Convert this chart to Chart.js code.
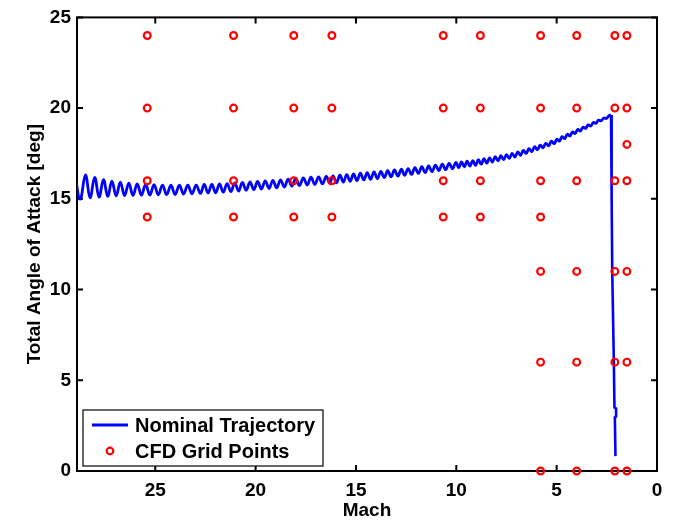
<!DOCTYPE html>
<html><head><meta charset="utf-8">
<script src="https://cdn.jsdelivr.net/npm/chart.js@4"></script>
<style>html,body{margin:0;padding:0;background:#fff}#wrap{width:674px;height:520px}</style>
</head><body><div id="wrap"><canvas id="c" width="674" height="520"></canvas></div>
<script>
const xTicks = [0, 5, 10, 15, 20, 25];
const yTicks = [0, 5, 10, 15, 20, 25];

const trajMach = [29.00,28.74,28.48,28.25,28.02,27.80,27.58,27.37,27.16,26.95,26.74,26.53,26.32,26.11,25.90,25.69,25.48,25.27,25.06,24.85,24.64,24.43,24.22,24.01,23.80,23.59,23.38,23.17,22.96,22.75,
22.56,22.37,22.18,21.99,21.80,21.61,21.42,21.23,21.04,20.85,20.66,20.47,20.28,20.09,19.90,19.71,19.52,19.33,19.14,18.95,18.76,18.57,18.38,18.19,18.00,17.81,17.62,17.43,17.24,17.05,16.86,16.67,16.48,
16.31,16.14,15.97,15.80,15.63,15.46,15.29,15.12,14.95,14.78,14.61,14.44,14.27,14.10,13.93,13.76,13.59,13.42,13.25,13.08,12.91,12.74,12.57,12.40,12.23,12.06,11.89,11.72,11.55,11.38,11.21,11.04,10.87,10.70,10.53,10.36,10.19,10.02,
9.88,9.74,9.60,9.46,9.32,9.18,9.04,8.90,8.76,8.62,8.48,8.34,8.20,8.06,7.92,7.78,7.64,7.50,7.36,7.22,7.08,6.94,6.80,6.66,6.52,6.38,6.24,6.10,5.96,5.82,5.68,5.54,5.40,5.26,5.12,
4.99,4.86,4.73,4.60,4.47,4.34,4.21,4.08,3.95,3.82,3.69,3.56,3.43,3.30,3.17,3.04,2.91,2.78,2.65,2.52,2.39,2.29];
const trajAoA = [16.30,14.98,16.32,15.06,16.18,15.10,16.06,15.14,15.98,15.16,15.92,15.18,15.87,15.19,15.83,15.20,15.80,15.21,15.78,15.22,15.76,15.23,15.75,15.24,15.75,15.26,15.75,15.28,15.76,15.30,
15.79,15.32,15.80,15.33,15.82,15.37,15.84,15.40,15.88,15.43,15.90,15.47,15.93,15.51,15.96,15.54,15.99,15.57,16.02,15.61,16.05,15.65,16.09,15.70,16.13,15.73,16.16,15.76,16.19,15.79,16.21,15.82,16.24,
15.86,16.27,15.88,16.30,15.92,16.34,15.96,16.37,16.01,16.41,16.04,16.44,16.08,16.48,16.12,16.51,16.17,16.55,16.21,16.59,16.25,16.63,16.30,16.67,16.35,16.72,16.40,16.77,16.45,16.81,16.50,16.86,16.56,16.91,16.61,16.96,16.66,17.01,
16.72,17.04,16.76,17.08,16.80,17.11,16.85,17.16,16.91,17.21,16.97,17.26,17.03,17.32,17.09,17.38,17.16,17.44,17.23,17.51,17.30,17.58,17.40,17.67,17.50,17.77,17.60,17.87,17.71,17.96,17.81,18.06,17.92,18.18,18.04,
18.29,18.18,18.43,18.32,18.56,18.46,18.69,18.60,18.82,18.74,18.95,18.88,19.08,19.01,19.21,19.16,19.34,19.30,19.46,19.43,19.58,19.62];

const dropMach = [2.29, 2.26, 2.23, 2.15, 2.12, 2.04, 2.04, 2.10, 2.07];
const dropAoA  = [19.62, 15.0, 11.0, 6.0, 3.5, 3.45, 3.0, 2.95, 0.82];

const gridMach = [25.4,25.4,25.4,25.4, 21.1,21.1,21.1,21.1, 18.1,18.1,18.1,18.1, 16.2,16.2,16.2,16.2,
  10.65,10.65,10.65,10.65, 8.8,8.8,8.8,8.8, 5.8,5.8,5.8,5.8,5.8,5.8,5.8, 4.0,4.0,4.0,4.0,4.0,4.0,
  2.1,2.1,2.1,2.1,2.1,2.1, 1.5,1.5,1.5,1.5,1.5,1.5,1.5];
const gridAoA = [24,20,16,14, 24,20,16,14, 24,20,16,14, 24,20,16,14,
  24,20,16,14, 24,20,16,14, 24,20,16,14,11,6,0, 24,20,16,11,6,0,
  24,20,16,11,6,0, 24,20,18,16,11,6,0];

const seriesLabels = ['Nominal Trajectory', 'CFD Grid Points'];
const BLUE = '#0000ff', RED = '#ff0000';
const FONT = '"Liberation Sans", Arial, sans-serif';

const frame = {
  id: 'frame',
  beforeDatasetsDraw(chart) {
    const {ctx, chartArea: a, scales: {x, y}} = chart;
    ctx.save();
    ctx.strokeStyle = '#000';
    ctx.lineWidth = 2;
    ctx.strokeRect(a.left, a.top, a.right - a.left, a.bottom - a.top);
    ctx.beginPath();
    const L = 6;
    xTicks.forEach(v => { const p = x.getPixelForValue(v);
      ctx.moveTo(p, a.bottom); ctx.lineTo(p, a.bottom - L);
      ctx.moveTo(p, a.top); ctx.lineTo(p, a.top + L); });
    yTicks.forEach(v => { const p = y.getPixelForValue(v);
      ctx.moveTo(a.left, p); ctx.lineTo(a.left + L, p);
      ctx.moveTo(a.right, p); ctx.lineTo(a.right - L, p); });
    ctx.stroke();
    ctx.restore();
  },
  afterDraw(chart) {
    const {ctx, chartArea: a} = chart;
    const bx = a.left + 6, bw = 240, bh = 56, by = a.bottom - 5 - bh;
    ctx.save();
    ctx.fillStyle = '#fff';
    ctx.fillRect(bx, by, bw, bh);
    ctx.strokeStyle = '#000';
    ctx.lineWidth = 1.2;
    ctx.strokeRect(bx, by, bw, bh);
    const r1 = by + 15, r2 = by + 41;
    ctx.strokeStyle = BLUE; ctx.lineWidth = 2.8;
    ctx.beginPath(); ctx.moveTo(bx + 9, r1); ctx.lineTo(bx + 45, r1); ctx.stroke();
    ctx.strokeStyle = RED; ctx.lineWidth = 2.2;
    ctx.beginPath(); ctx.arc(bx + 27, r2, 3.3, 0, Math.PI * 2); ctx.stroke();
    ctx.fillStyle = '#000';
    ctx.font = 'bold 20px ' + FONT;
    ctx.textBaseline = 'middle';
    ctx.fillText(chart.data.datasets[0].label, bx + 52, r1 + 1);
    ctx.fillText(chart.data.datasets[2].label, bx + 52, r2 + 1);
    ctx.restore();
  }
};

new Chart(document.getElementById('c'), {
  type: 'scatter',
  data: {
    datasets: [
      { label: seriesLabels[0], type: 'line', data: trajMach.map((m, i) => ({x: m, y: trajAoA[i]})),
        borderColor: BLUE, borderWidth: 2.8, pointRadius: 0, tension: 0.4, fill: false, order: 2 },
      { label: seriesLabels[0] + ' (drop)', type: 'line', data: dropMach.map((m, i) => ({x: m, y: dropAoA[i]})),
        borderColor: BLUE, borderWidth: 2.6, pointRadius: 0, tension: 0, fill: false, order: 3 },
      { label: seriesLabels[1], data: gridMach.map((m, i) => ({x: m, y: gridAoA[i]})),
        pointStyle: 'circle', pointRadius: 3.4, pointBorderWidth: 2.2, borderColor: RED,
        backgroundColor: 'rgba(0,0,0,0)', pointBackgroundColor: 'rgba(0,0,0,0)', showLine: false, clip: false, order: 1 }
    ]
  },
  options: {
    responsive: false, animation: false, devicePixelRatio: 1,
    layout: { padding: { top: 14, right: 17, left: 0, bottom: 0 } },
    plugins: { legend: { display: false }, tooltip: { enabled: false } },
    scales: {
      x: {
        type: 'linear', reverse: true, min: 0, max: 28.9,
        afterBuildTicks: s => { s.ticks = xTicks.map(v => ({value: v})); },
        afterFit: s => { s.height = 49; },
        grid: { display: false, drawTicks: false }, border: { display: false },
        ticks: { color: '#000', padding: 8, font: { family: FONT, size: 19, weight: 'bold' }, maxRotation: 0 },
        title: { display: true, text: 'Mach', color: '#000', padding: { top: 0, bottom: 0 },
          font: { family: FONT, size: 19, weight: 'bold', lineHeight: 1.0 } }
      },
      y: {
        type: 'linear', min: 0, max: 25,
        afterBuildTicks: s => { s.ticks = yTicks.map(v => ({value: v})); },
        afterFit: s => { s.width = 77; },
        grid: { display: false, drawTicks: false }, border: { display: false },
        ticks: { color: '#000', padding: 6, font: { family: FONT, size: 19, weight: 'bold' } },
        title: { display: true, text: 'Total Angle of Attack [deg]', color: '#000', padding: { top: 23, bottom: 0 },
          font: { family: FONT, size: 19, weight: 'bold' } }
      }
    }
  },
  plugins: [frame]
});
</script>
</body></html>
